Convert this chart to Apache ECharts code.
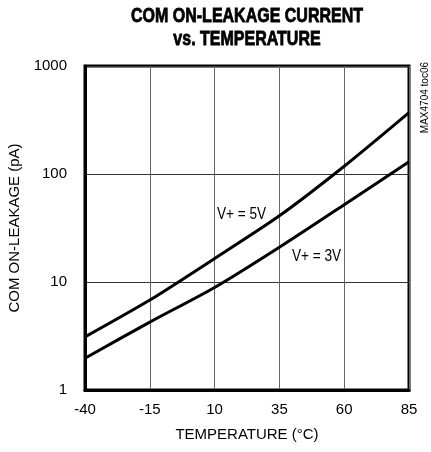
<!DOCTYPE html>
<html>
<head>
<meta charset="utf-8">
<script src="https://cdn.jsdelivr.net/npm/echarts@6/dist/echarts.min.js"></script>
<style>html,body{margin:0;padding:0;background:#fff}#c{width:431px;height:452px}</style>
</head>
<body>
<div id="c"></div>
<script>
// Data
var temps   = [-40, -15, 10, 35, 60, 85];
var leak5V  = [3.1, 6.8, 16.5, 41, 118, 370];
var leak3V  = [1.97, 4.25, 8.9, 21, 52, 130];
var xTicks = [-40, -15, 10, 35, 60, 85];
var yTicks = [1, 10, 100, 1000];
var titleLines = ['COM ON-LEAKAGE CURRENT', 'vs. TEMPERATURE'];
var curveLabels = ['V+ = 5V', 'V+ = 3V'];

function pairs(xs, ys){ return xs.map(function(x,i){ return [x, ys[i]]; }); }

var FONT = '"Liberation Sans", Arial, sans-serif';
var chart = echarts.init(document.getElementById('c'), null, {renderer:'canvas'});
chart.setOption({
  animation: false,
  backgroundColor: '#fff',
  grid: {left: 85, top: 66, right: 22, bottom: 62, show: true, borderColor: '#000', borderWidth: 3,
         containLabel: false, outerBoundsMode: 'none'},
  xAxis: {
    type: 'value', min: xTicks[0], max: xTicks[xTicks.length-1], interval: 25,
    name: 'TEMPERATURE (°C)', nameLocation: 'middle', nameGap: 37,
    nameTextStyle: {fontFamily: FONT, fontSize: 15, color: '#000'},
    axisLine: {show: true, onZero: false, lineStyle: {color: '#000', width: 3}},
    axisTick: {show: false},
    axisLabel: {fontFamily: FONT, fontSize: 15, color: '#000', margin: 12},
    splitLine: {show: true, lineStyle: {color: '#666', width: 1}}
  },
  yAxis: {
    type: 'log', logBase: 10, min: yTicks[0], max: yTicks[yTicks.length-1],
    name: 'COM ON-LEAKAGE (pA)', nameLocation: 'middle', nameGap: 59,
    nameTextStyle: {fontFamily: FONT, fontSize: 15, color: '#000'},
    axisLine: {show: true, onZero: false, lineStyle: {color: '#000', width: 3}},
    axisTick: {show: false},
    axisLabel: {fontFamily: FONT, fontSize: 15, color: '#000', margin: 18,
                formatter: function(v){ return String(Math.round(v)); }},
    splitLine: {show: true, lineStyle: {color: '#333', width: 1}},
    minorTick: {show: false}
  },
  series: [
    {type: 'line', name: curveLabels[0], data: pairs(temps, leak5V), smooth: 0.25, showSymbol: false,
     lineStyle: {color: '#000', width: 3}},
    {type: 'line', name: curveLabels[1], data: pairs(temps, leak3V), smooth: 0.25, showSymbol: false,
     lineStyle: {color: '#000', width: 3}}
  ],
  graphic: [
    {type: 'text', x: 247, y: 16, scaleX: 0.8,
     style: {text: titleLines[0], fontFamily: FONT, fontWeight: 'bold', fontSize: 20, fill: '#000',
             stroke: '#000', lineWidth: 0.8, align: 'center', verticalAlign: 'middle'}},
    {type: 'text', x: 247, y: 39, scaleX: 0.8,
     style: {text: titleLines[1], fontFamily: FONT, fontWeight: 'bold', fontSize: 20, fill: '#000',
             stroke: '#000', lineWidth: 0.8, align: 'center', verticalAlign: 'middle'}},
    {type: 'text', x: 217, y: 214, scaleX: 0.8,
     style: {text: curveLabels[0], fontFamily: FONT, fontSize: 17, fill: '#000', align: 'left', verticalAlign: 'middle'}},
    {type: 'text', x: 292, y: 256, scaleX: 0.8,
     style: {text: curveLabels[1], fontFamily: FONT, fontSize: 17, fill: '#000', align: 'left', verticalAlign: 'middle'}},
    {type: 'text', x: 425, y: 62, rotation: Math.PI/2,
     style: {text: 'MAX4704 toc06', fontFamily: FONT, fontSize: 10, fill: '#000', align: 'right', verticalAlign: 'middle'}}
  ]
});
</script>
</body>
</html>
